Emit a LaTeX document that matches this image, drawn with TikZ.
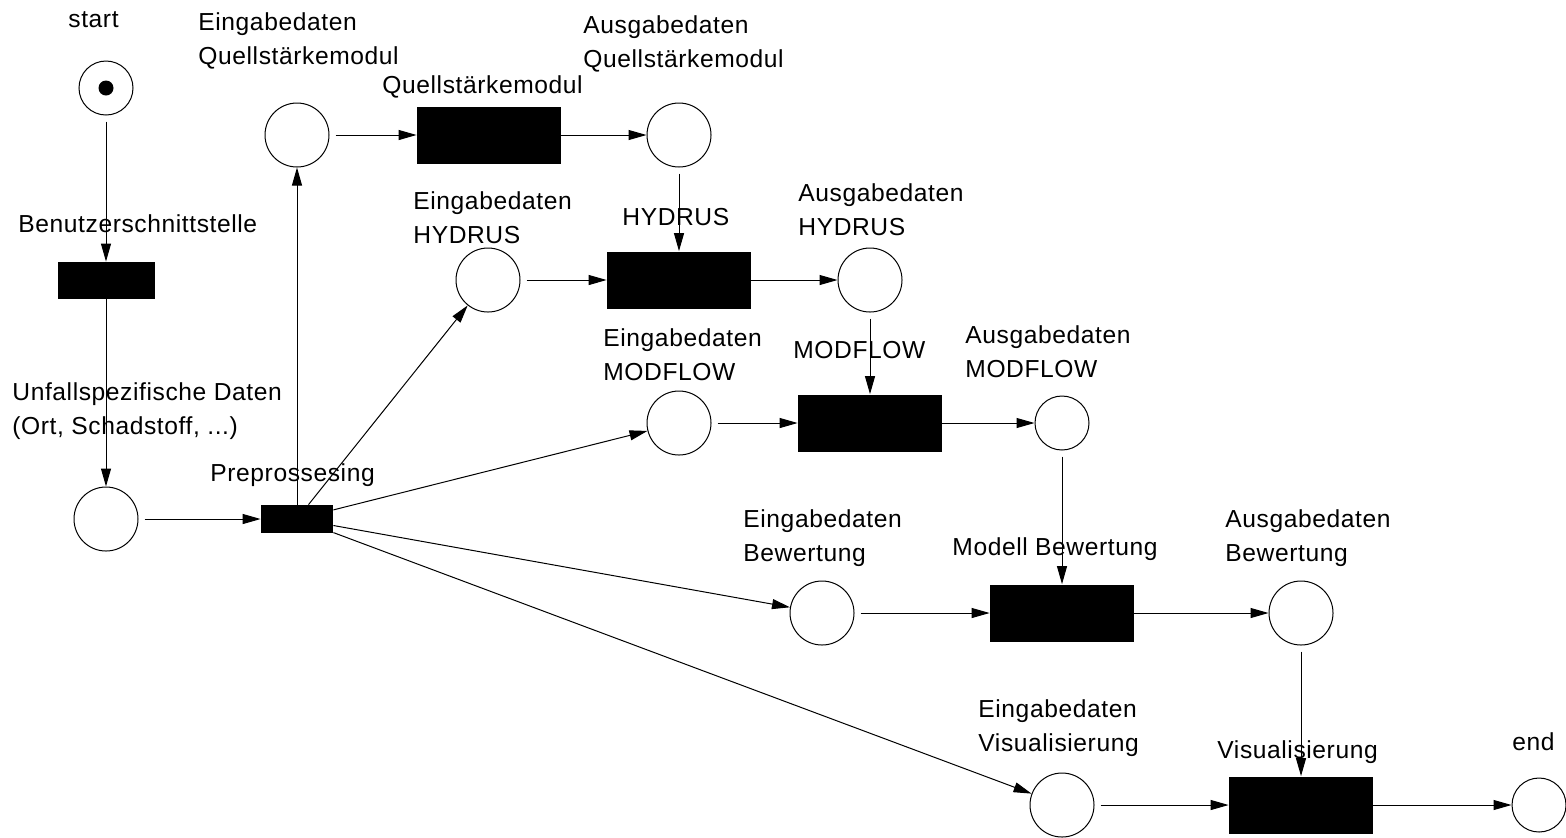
\documentclass[tikz,border=0pt]{standalone}
\usepackage{fontspec}
\setmainfont{Liberation Sans}[LetterSpace=2.4]
\usetikzlibrary{arrows.meta}
\begin{document}
\begin{tikzpicture}[x=0.5pt,y=-0.5pt,
  place/.style={circle,draw,line width=0.5pt,minimum size=32pt,inner sep=0},
  smallplace/.style={place,minimum size=27pt},
  trans/.style={fill=black,inner sep=0,minimum width=72pt,minimum height=28.5pt},
  arc/.style={-{Triangle[length=9pt,width=5pt]},line width=0.5pt},
  parc/.style={arc,shorten <=3pt},
  lbl/.style={inner sep=0,align=left,anchor=north west,font=\fontsize{12.3}{17}\selectfont},
  slbl/.style={inner sep=0,anchor=base west,font=\fontsize{12.3}{17}\selectfont},
]
\useasboundingbox (0,0) rectangle (1566,837);

% places
\node[smallplace] (start) at (106,88) {};
\node[circle,fill=black,minimum size=7.5pt,inner sep=0] (tok) at (start) {};
\node[place] (unf) at (106,519) {};
\node[place] (eq) at (297,135) {};
\node[place] (aq) at (679,135) {};
\node[place] (eh) at (488,280) {};
\node[place] (ah) at (870,280) {};
\node[place] (em) at (679,423) {};
\node[smallplace] (am) at (1062,423) {};
\node[place] (eb) at (822,613) {};
\node[place] (ab) at (1301,613) {};
\node[place] (ev) at (1062,805) {};
\node[smallplace] (end) at (1539,805) {};

% transitions
\node[trans,minimum width=48.5pt,minimum height=18.5pt] (ben) at (106,280.5) {};
\node[trans,minimum width=36pt,minimum height=14pt] (pre) at (297,519) {};
\node[trans] (q) at (489,135) {};
\node[trans] (hy) at (679,280) {};
\node[trans] (mf) at (870,423) {};
\node[trans] (mb) at (1062,613) {};
\node[trans] (vis) at (1301,805) {};

% labels
\node[slbl] (lstart) at (68,27) {start};
\node[slbl] (lben) at (18,232) {Benutzerschnittstelle};
\node[lbl] (lunf) at (12,382) {Unfallspezifische Daten\\(Ort, Schadstoff, ...)};
\node[slbl] (lpre) at (210,481) {Preprossesing};
\node[lbl] (leq) at (198,12) {Eingabedaten\\Quellstärkemodul};
\node[slbl] (lq) at (382,93) {Quellstärkemodul};
\node[lbl] (laq) at (583,15) {Ausgabedaten\\Quellstärkemodul};
\node[lbl] (leh) at (413,191) {Eingabedaten\\HYDRUS};
\node[slbl] (lhy) at (622,225) {HYDRUS};
\node[lbl] (lah) at (798,183) {Ausgabedaten\\HYDRUS};
\node[lbl] (lem) at (603,328) {Eingabedaten\\MODFLOW};
\node[slbl] (lmf) at (793,358) {MODFLOW};
\node[lbl] (lam) at (965,325) {Ausgabedaten\\MODFLOW};
\node[lbl] (leb) at (743,509) {Eingabedaten\\Bewertung};
\node[slbl] (lmb) at (952,555) {Modell Bewertung};
\node[lbl] (lab) at (1225,509) {Ausgabedaten\\Bewertung};
\node[lbl] (lev) at (978,699) {Eingabedaten\\Visualisierung};
\node[slbl] (lvis) at (1217,758) {Visualisierung};
\node[slbl] (lend) at (1512,750) {end};

% arcs
\draw[parc] (start) -- (ben);
\draw[arc] (ben) -- (unf);
\draw[parc] (unf) -- (pre);
\draw[arc] (pre) -- (eq);
\draw[arc] (pre) -- (eh);
\draw[arc] (pre) -- (em);
\draw[arc] (pre) -- (eb);
\draw[arc] (pre) -- (ev);
\draw[parc] (eq) -- (q);
\draw[arc] (q) -- (aq);
\draw[parc] (aq) -- (hy);
\draw[parc] (eh) -- (hy);
\draw[arc] (hy) -- (ah);
\draw[parc] (ah) -- (mf);
\draw[parc] (em) -- (mf);
\draw[arc] (mf) -- (am);
\draw[parc] (am) -- (mb);
\draw[parc] (eb) -- (mb);
\draw[arc] (mb) -- (ab);
\draw[parc] (ab) -- (vis);
\draw[parc] (ev) -- (vis);
\draw[arc] (vis) -- (end);
\end{tikzpicture}
\end{document}
